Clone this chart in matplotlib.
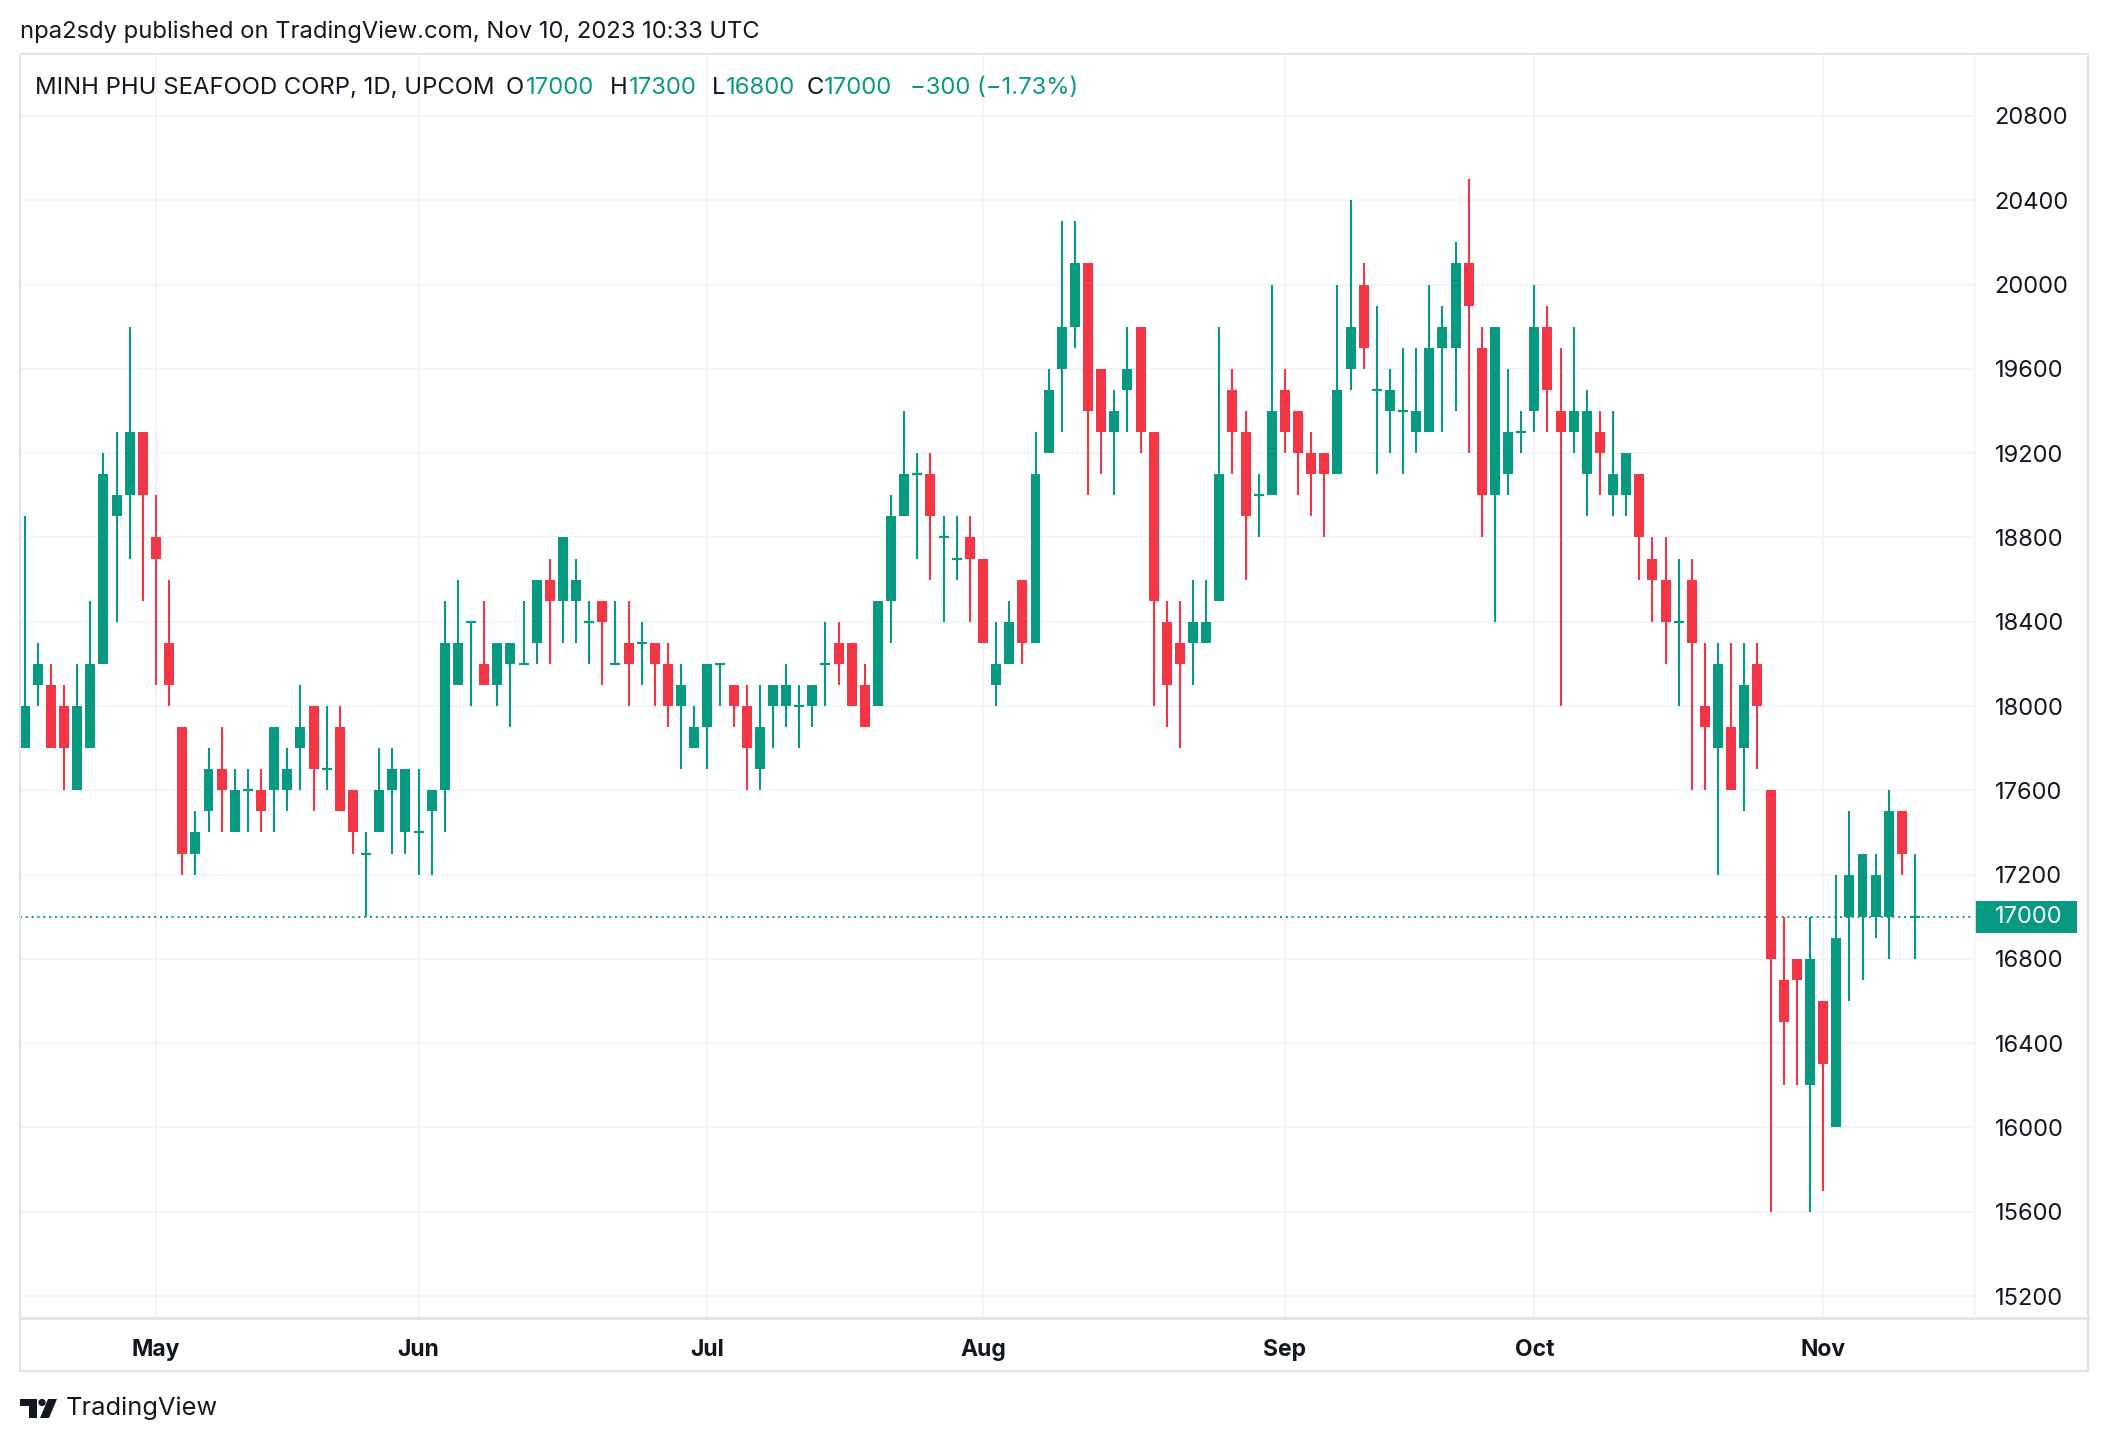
import numpy as np
import matplotlib
matplotlib.use("Agg")
import matplotlib.pyplot as plt
from matplotlib.patches import Rectangle, Polygon, Circle
from matplotlib.transforms import blended_transform_factory

plt.rcParams['font.family'] = ['Inter', 'DejaVu Sans']

# daily OHLC, Apr 17 - Nov 10 2023 (trading days only)
opens = [17800, 18100, 18100, 18000, 17600, 17800, 18200, 18900, 19000, 19300,
         18800, 18300, 17900, 17300, 17500, 17700, 17400, 17600, 17600, 17600,
         17600, 17800, 18000, 17700, 17900, 17600, 17300, 17400, 17600, 17400,
         17400, 17500, 17600, 18100, 18400, 18200, 18100, 18200, 18200, 18300,
         18600, 18500, 18500, 18400, 18500, 18200, 18300, 18300, 18300, 18200,
         18000, 17800, 17900, 18200, 18100, 18000, 17700, 18000, 18000, 18000,
         18000, 18200, 18300, 18300, 18100, 18000, 18500, 18900, 19100, 19100,
         18800, 18700, 18800, 18700, 18100, 18200, 18600, 18300, 19200, 19600,
         19800, 20100, 19600, 19300, 19500, 19800, 19300, 18400, 18300, 18300,
         18300, 18500, 19500, 19300, 19000, 19000, 19500, 19400, 19200, 19200,
         19100, 19600, 20000, 19500, 19400, 19400, 19300, 19300, 19700, 19700,
         20100, 19700, 19000, 19100, 19300, 19400, 19800, 19400, 19300, 19100,
         19300, 19000, 19000, 19100, 18700, 18600, 18400, 18600, 18000, 17800,
         17900, 17800, 18200, 17600, 16700, 16800, 16200, 16600, 16000, 17000,
         17000, 17000, 17000, 17500, 17000]
highs = [18900, 18300, 18200, 18100, 18200, 18500, 19200, 19300, 19800, 19300,
         19000, 18600, 17900, 17500, 17800, 17900, 17700, 17700, 17700, 17900,
         17800, 18100, 18000, 18000, 18000, 17600, 17400, 17800, 17800, 17700,
         17700, 17600, 18500, 18600, 18400, 18500, 18300, 18300, 18500, 18600,
         18700, 18800, 18700, 18500, 18500, 18500, 18500, 18400, 18300, 18300,
         18200, 18000, 18200, 18200, 18100, 18100, 18100, 18100, 18200, 18100,
         18100, 18400, 18400, 18300, 18200, 18500, 19000, 19400, 19200, 19200,
         18900, 18900, 18900, 18700, 18400, 18500, 18600, 19300, 19600, 20300,
         20300, 20100, 19600, 19500, 19800, 19800, 19300, 18500, 18500, 18600,
         18600, 19800, 19600, 19400, 19100, 20000, 19600, 19400, 19300, 19200,
         20000, 20400, 20100, 19900, 19600, 19700, 19700, 20000, 19900, 20200,
         20500, 19800, 19800, 19600, 19400, 20000, 19900, 19700, 19800, 19500,
         19400, 19400, 19200, 19100, 18800, 18800, 18700, 18700, 18300, 18300,
         18300, 18300, 18300, 17600, 17000, 16800, 17000, 16600, 17200, 17500,
         17300, 17300, 17600, 17500, 17300]
lows = [17800, 18000, 17800, 17600, 17600, 17800, 18200, 18400, 18700, 18500,
        18100, 18000, 17200, 17200, 17400, 17400, 17400, 17400, 17400, 17400,
        17500, 17600, 17500, 17600, 17500, 17300, 17000, 17400, 17300, 17300,
        17200, 17200, 17400, 18100, 18000, 18100, 18000, 17900, 18200, 18200,
        18200, 18300, 18300, 18200, 18100, 18200, 18000, 18100, 18000, 17900,
        17700, 17800, 17700, 18000, 17900, 17600, 17600, 17800, 17900, 17800,
        17900, 18000, 18100, 18000, 17900, 18000, 18300, 18900, 18700, 18600,
        18400, 18600, 18400, 18300, 18000, 18200, 18200, 18300, 19200, 19300,
        19700, 19000, 19100, 19000, 19300, 19200, 18000, 17900, 17800, 18100,
        18300, 18500, 19100, 18600, 18800, 19000, 19200, 19000, 18900, 18800,
        19100, 19500, 19600, 19100, 19200, 19100, 19200, 19300, 19300, 19400,
        19200, 18800, 18400, 19000, 19200, 19300, 19300, 18000, 19200, 18900,
        19000, 18900, 18900, 18600, 18400, 18200, 18000, 17600, 17600, 17200,
        17600, 17500, 17700, 15600, 16200, 16200, 15600, 15700, 16000, 16600,
        16700, 16900, 16800, 17200, 16800]
closes = [18000, 18200, 17800, 17800, 18000, 18200, 19100, 19000, 19300, 19000,
          18700, 18100, 17300, 17400, 17700, 17600, 17600, 17600, 17500, 17900,
          17700, 17900, 17700, 17700, 17500, 17400, 17300, 17600, 17700, 17700,
          17400, 17600, 18300, 18300, 18400, 18100, 18300, 18300, 18200, 18600,
          18500, 18800, 18600, 18400, 18400, 18200, 18200, 18300, 18200, 18000,
          18100, 17900, 18200, 18200, 18000, 17800, 17900, 18100, 18100, 18000,
          18100, 18200, 18200, 18000, 17900, 18500, 18900, 19100, 19100, 18900,
          18800, 18700, 18700, 18300, 18200, 18400, 18300, 19100, 19500, 19800,
          20100, 19400, 19300, 19400, 19600, 19300, 18500, 18100, 18200, 18400,
          18400, 19100, 19300, 18900, 19000, 19400, 19300, 19200, 19100, 19100,
          19500, 19800, 19700, 19500, 19500, 19400, 19400, 19700, 19800, 20100,
          19900, 19000, 19800, 19300, 19300, 19800, 19500, 19300, 19400, 19400,
          19200, 19100, 19200, 18800, 18600, 18400, 18400, 18300, 17900, 18200,
          17600, 18100, 18000, 16800, 16500, 16700, 16800, 16300, 16900, 17200,
          17300, 17200, 17500, 17300, 17000]

month_pos = [10, 30, 52, 73, 96, 115, 137]
month_labels = ['May', 'Jun', 'Jul', 'Aug', 'Sep', 'Oct', 'Nov']
price_ticks = list(range(15200, 20801, 400))
last_price = 17000

UP = '#089981'
DOWN = '#F23645'
TXT = '#131722'
GRID = '#f0f3fa'
BORDER = '#e0e3eb'

W, H = 2108, 1442
fig = plt.figure(figsize=(W / 100, H / 100), dpi=100)
fig.patch.set_facecolor('white')

ax = fig.add_axes([20 / W, 124 / H, 1955 / W, 1264 / H])
o = np.array(opens)
h = np.array(highs)
l = np.array(lows)
c = np.array(closes)
x = np.arange(len(o))
col = np.where(c >= o, UP, DOWN)

ax.vlines(x, l, h, colors=col, lw=1.5, zorder=3)
ax.bar(x, np.abs(c - o), bottom=np.minimum(o, c), width=0.76, color=col, zorder=4)
doji = c == o
ax.hlines(o[doji], x[doji] - 0.38, x[doji] + 0.38, colors=col[doji], lw=1.6, zorder=4)

ax.axhline(last_price, color=UP, lw=1.4, ls=(0, (1, 2)), zorder=2)

ax.set_xlim(-0.36, 148.57)
ax.set_ylim(15096, 21094)
ax.set_xticks(month_pos)
ax.set_xticklabels(month_labels, fontsize=16.5, fontweight='bold', color=TXT)
ax.set_yticks(price_ticks)
ax.set_yticklabels([str(p) for p in price_ticks], fontsize=17, color=TXT)
ax.yaxis.tick_right()
ax.tick_params(axis='y', length=0, pad=14)
ax.tick_params(axis='x', length=0, pad=15)
ax.grid(True, color=GRID, lw=1.3, zorder=0)
ax.set_axisbelow(True)
for s in ax.spines.values():
    s.set_visible(False)

# last price label on the price scale
tr = blended_transform_factory(ax.transAxes, ax.transData)
ax.add_patch(Rectangle((1.0, last_price - 76), 102 / 1955, 152, transform=tr,
                       facecolor=UP, edgecolor='none', clip_on=False, zorder=5))
ax.text(1.0 + 20 / 1955, last_price, str(last_price), transform=tr, color='white',
        fontsize=17, va='center', ha='left', clip_on=False, zorder=6)

# overlay in pixel coordinates for frame, header and logo
ov = fig.add_axes([0, 0, 1, 1])
ov.set_xlim(0, W)
ov.set_ylim(H, 0)
ov.axis('off')
ov.patch.set_alpha(0)

ov.add_patch(Rectangle((20, 54), 2068, 1317, fill=False, edgecolor=BORDER, lw=1.5))
ov.plot([20, 2088], [1318, 1318], color=BORDER, lw=2)
ov.plot([1975, 1975], [54, 1318], color=GRID, lw=1.2)

ov.text(20, 32, 'npa2sdy published on TradingView.com, Nov 10, 2023 10:33 UTC',
        fontsize=17.1, color=TXT, va='center', ha='left')

legend_parts = [
    (35, 'MINH PHU SEAFOOD CORP, 1D, UPCOM', TXT),
    (506, 'O', TXT), (526, '17000', UP),
    (610, 'H', TXT), (629, '17300', UP),
    (712, 'L', TXT), (726, '16800', UP),
    (807, 'C', TXT), (824, '17000', UP),
    (910, '\u2212300 (\u22121.73%)', UP),
]
for px, s, cl in legend_parts:
    ov.text(px, 88, s, fontsize=17.2, color=cl, va='center', ha='left')

# TradingView logo
ov.add_patch(Polygon([(20, 1399), (37, 1399), (37, 1418), (29, 1418), (29, 1406), (20, 1406)],
                     closed=True, facecolor=TXT, edgecolor='none'))
ov.add_patch(Circle((42, 1402.5), 3.6, facecolor=TXT, edgecolor='none'))
ov.add_patch(Polygon([(48, 1399), (57, 1399), (49, 1418), (40, 1418)],
                     closed=True, facecolor=TXT, edgecolor='none'))
ov.text(66, 1408, 'TradingView', fontsize=18.3, color=TXT, va='center', ha='left')

fig.savefig('out.png', dpi=100, facecolor='white')
